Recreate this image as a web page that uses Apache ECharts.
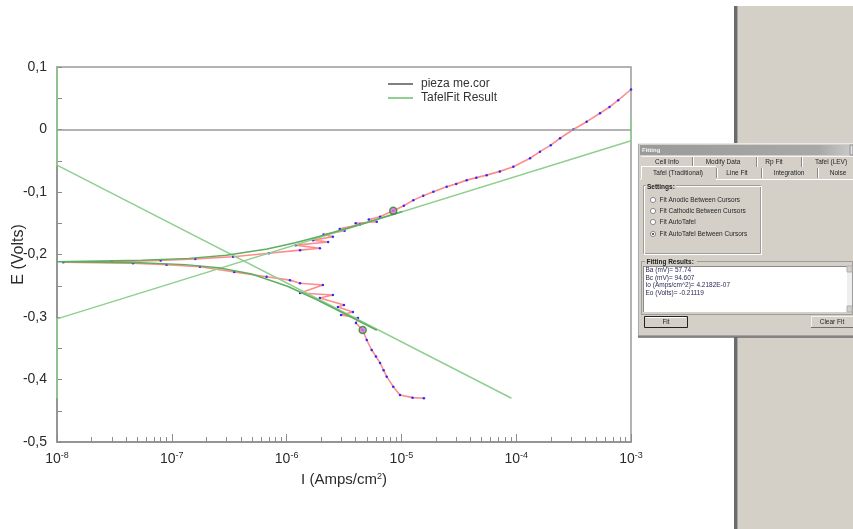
<!DOCTYPE html>
<html><head><meta charset="utf-8">
<script src="https://cdn.jsdelivr.net/npm/echarts@6/dist/echarts.min.js"></script>
<style>html,body{margin:0;padding:0;background:#fff}#c{width:853px;height:529px}</style>
</head><body><div id="c"></div>
<script>
// ---- measured data (I in A/cm2, E in V) ----
const dataI = [1.57e-5,1.25e-5,9.72e-6,8.49e-6,7.45e-6,7.0e-6,6.52e-6,6.0e-6,5.51e-6,4.99e-6,4.6e-6,4.02e-6,4.19e-6,2.98e-6,3.78e-6,2.8e-6,3.16e-6,1.95e-6,2.53e-6,1.31e-6,2.07e-6,1.31e-6,1.07e-6,6.7e-7,3.5e-7,1.76e-7,9e-8,4.6e-8,1.135e-8,
  3e-8,8e-8,1.6e-7,3.42e-7,7e-7,1.31e-6,1.95e-6,1.2e-6,2.3e-6,1.7e-6,2.53e-6,2.1e-6,3.2e-6,2.9e-6,4.36e-6,4.0e-6,6.1e-6,5.2e-6,6.52e-6,8.49e-6,1.05e-5,1.27e-5,1.55e-5,1.90e-5,2.48e-5,3.0e-5,3.71e-5,4.5e-5,5.53e-5,7.2e-5,9.44e-5,1.32e-4,1.61e-4,2.0e-4,2.41e-4,3.14e-4,4.11e-4,5.37e-4,6.5e-4,7.74e-4,1.0e-3];
const dataE = [-0.430,-0.429,-0.4248,-0.4115,-0.3955,-0.385,-0.3736,-0.363,-0.3528,-0.3368,-0.3208,-0.3096,-0.3016,-0.2968,-0.292,-0.284,-0.2808,-0.2696,-0.2648,-0.2616,-0.2488,-0.246,-0.241,-0.2355,-0.228,-0.2195,-0.2165,-0.214,-0.2125,
  -0.2115,-0.2095,-0.207,-0.2035,-0.198,-0.193,-0.190,-0.185,-0.180,-0.177,-0.1715,-0.168,-0.162,-0.159,-0.152,-0.150,-0.1475,-0.144,-0.1395,-0.130,-0.122,-0.113,-0.106,-0.0995,-0.0915,-0.087,-0.081,-0.077,-0.073,-0.067,-0.0595,-0.046,-0.0355,-0.025,-0.014,0.000,0.0125,0.026,0.036,0.047,0.064];
const fitI = [6.11e-6,2.93e-6,1.78e-6,1.03e-6,4.96e-7,2.55e-7,1.31e-7,5.34e-8,1e-8,1e-8,5.5e-8,1.41e-7,2.98e-7,6.77e-7,1.19e-6,1.92e-6,4.52e-6,1.02e-5];
const fitE = [-0.3212,-0.2912,-0.2712,-0.2512,-0.2312,-0.2212,-0.2162,-0.2132,-0.2116,-0.2108,-0.2092,-0.2062,-0.2012,-0.1912,-0.1812,-0.1712,-0.1512,-0.1312];
const anodicI = [1e-8,1e-8,1e-3,1e-3];
const anodicE = [-0.43,-0.303,-0.018,0.02];
const cathodicI = [1e-8,1e-8,9.1e-5];
const cathodicE = [0.1,-0.057,-0.43];
const cursorI = [8.49e-6,4.6e-6];
const cursorE = [-0.130,-0.3208];
const minorMantissas = [2,3,4,5,6,7,8,9];
const decades = [-8,-7,-6,-5,-4];
const tabsRow1 = [['Cell Info',667],['Modify Data',723],['Rp Fit',774],['Tafel (LEV)',831]];
const tabsRow2 = [['Tafel (Traditional)',678],['Line Fit',737],['Integration',789],['Noise',838]];
const radioLabels = ['Fit Anodic Between Cursors','Fit Cathodic Between Cursors','Fit AutoTafel','Fit AutoTafel Between Cursors'];
const resultLines = ['Ba (mV)= 57.74','Bc (mV)= 94.607','Io (Amps/cm^2)= 4.2182E-07','Eo (Volts)= -0.21119'];

const zip = (a,b) => a.map((v,i)=>[v,b[i]]);
const minorXTicks = [];
decades.forEach(d => minorMantissas.forEach(m => minorXTicks.push(m*Math.pow(10,d))));

// ---- dialog / panel graphics ----
const G = [];
const FONT = '6.5px "Liberation Sans", Arial, sans-serif';
function rect(x,y,w,h,fill,stroke,lw){G.push({type:'rect',silent:true,shape:{x:x,y:y,width:w,height:h},style:{fill:fill||'none',stroke:stroke||null,lineWidth:lw||1}});}
function line(x1,y1,x2,y2,stroke,lw){G.push({type:'line',silent:true,shape:{x1:x1,y1:y1,x2:x2,y2:y2},style:{stroke:stroke,lineWidth:lw||1}});}
function text(x,y,t,o){G.push({type:'text',silent:true,x:x,y:y,style:Object.assign({text:t,fill:'#262626',font:FONT,textAlign:'left',textVerticalAlign:'middle',align:'left',verticalAlign:'middle'},o||{})});}
function circle(cx,cy,r,fill,stroke){G.push({type:'circle',silent:true,shape:{cx:cx,cy:cy,r:r},style:{fill:fill,stroke:stroke||null,lineWidth:1}});}

// side panel
rect(734,6,3,523,'#6b6b6b');
rect(737,6,1,523,'#a5a5a5');
rect(738,6,115,523,'#d4d0c8');
// dialog body
rect(638,143,215,194,'#d4d0c8');
line(638.5,143,638.5,337,'#a8a8a8');
line(638,143.5,853,143.5,'#e8e8e8');
line(638,335.5,853,335.5,'#a0a0a0');
line(638,337,853,337,'#6a6a6a',1.5);
// title bar
G.push({type:'rect',silent:true,shape:{x:640,y:145,width:210,height:10},style:{fill:{type:'linear',x:0,y:0,x2:1,y2:0,colorStops:[{offset:0,color:'#9a9a9a'},{offset:0.85,color:'#a8a8a8'},{offset:1,color:'#c8c8c8'}]}}});
rect(850,145,3,10,'#e0e0e0','#909090');
text(642,150,'Fitting',{fill:'#f4f4f4',font:'bold 6px "Liberation Sans", Arial, sans-serif'});
// tabs
line(641,156.5,853,156.5,'#f4f4f4');
[692.5,756.5,801.5].forEach(x=>{line(x,157,x,167,'#8a8a8a');line(x+1,157,x+1,167,'#ffffff');});
[716.5,761.5,817.5].forEach(x=>{line(x,168,x,178,'#8a8a8a');line(x+1,168,x+1,178,'#ffffff');});
line(641,166.5,716,166.5,'#ffffff');
line(641.5,166,641.5,179,'#ffffff');
line(716,179.5,853,179.5,'#ffffff');
line(640,179.5,641,179.5,'#ffffff');
tabsRow1.forEach(t=>text(t[1],162.5,t[0],{textAlign:'center',align:'center'}));
tabsRow2.forEach(t=>text(t[1],173,t[0],{textAlign:'center',align:'center'}));
// settings group
rect(643.5,185.5,117,68,'none','#9c9c9c');
rect(644.5,186.5,117,68,'none','#ffffff');
rect(646,184,30,6,'#d4d0c8');
text(647,187.5,'Settings:',{font:'bold 6.5px "Liberation Sans", Arial, sans-serif',fill:'#222'});
[200,211,222,234].forEach((cy,i)=>{
  circle(653,cy,2.6,'#ffffff','#8a8a8a');
  if(i===3) circle(653,cy,1.1,'#333333');
  text(659.5,cy,radioLabels[i]);
});
// fitting results group
rect(641.5,261.5,211,53,'none','#9c9c9c');
rect(645,259,52,6,'#d4d0c8');
text(646.5,262.5,'Fitting Results:',{font:'bold 6.5px "Liberation Sans", Arial, sans-serif',fill:'#222'});
rect(643,266,204,46,'#ffffff');
line(643,266.5,847,266.5,'#8a8a8a');
line(643.5,266,643.5,312,'#8a8a8a');
rect(847,266,5,46,'#eeeeee');
rect(847,266,5,6,'#d4d0c8','#b0b0b0');
rect(847,306,5,6,'#d4d0c8','#b0b0b0');
resultLines.forEach((t,i)=>text(645.5,270.5+i*7.6,t,{fill:'#2a2a55'}));
// buttons
rect(644.5,316.5,43,11,'#d4d0c8','#222222');
line(645.5,317.5,686,317.5,'#ffffff');
text(666,322,'Fit',{textAlign:'center',align:'center'});
rect(811.5,316.5,42,11,'#d4d0c8','#f0f0f0');
line(811,327.5,853,327.5,'#707070');
text(832,322,'Clear Fit',{textAlign:'center',align:'center'});

// ---- chart ----
const chart = echarts.init(document.getElementById('c'), null, {renderer:'canvas'});
const AX = '#8c8c8c';
const FF = '"Liberation Sans", Arial, sans-serif';
const LBL = {color:'#2b2b2b', fontSize:14, fontFamily:FF};
chart.setOption({
  animation:false,
  backgroundColor:'#ffffff',
  grid:{left:57,right:222,top:67,bottom:87,show:true,borderColor:'#9a9a9a',borderWidth:1.5,backgroundColor:'transparent',containLabel:false,outerBoundsMode:'none'},
  legend:{
    left:388, top:78, orient:'vertical', itemWidth:25, itemHeight:2, itemGap:2, icon:'rect', padding:0,
    textStyle:{fontSize:12,color:'#333',fontFamily:FF,padding:[0,0,0,3]},
    data:[{name:'pieza me.cor',itemStyle:{color:'#808080'}},{name:'TafelFit Result',itemStyle:{color:'#8fcf8f'}}]
  },
  xAxis:[{
    type:'log', logBase:10, min:1e-8, max:1e-3,
    name:'I (Amps/cm{s|2})', nameLocation:'middle', nameGap:30, nameMoveOverlap:false,
    nameTextStyle:{color:'#2b2b2b',fontSize:15,fontFamily:FF,
      rich:{s:{fontSize:9,color:'#2b2b2b',verticalAlign:'top',padding:[0,0,7,0],fontFamily:FF}}},
    axisLine:{show:true,onZero:false,lineStyle:{color:AX,width:1.5}},
    axisTick:{show:true,inside:true,length:8,lineStyle:{color:AX}},
    splitLine:{show:false},
    axisLabel:{margin:9,formatter:v=>'{b|10}{s|'+Math.round(Math.log10(v))+'}',
      rich:{b:Object.assign({},LBL),s:{fontSize:9,color:'#2b2b2b',verticalAlign:'top',padding:[0,0,7,0],fontFamily:FF}}}
  },{
    type:'log', logBase:10, min:1e-8, max:1e-3, position:'bottom',
    axisLine:{show:false,onZero:false}, splitLine:{show:false}, axisLabel:{show:false},
    axisTick:{show:true,inside:true,length:5,customValues:minorXTicks,lineStyle:{color:AX}}
  }],
  yAxis:{
    type:'value', min:-0.5, max:0.1, interval:0.1,
    name:'E (Volts)', nameLocation:'middle', nameGap:30, nameRotate:90, nameMoveOverlap:false,
    nameTextStyle:{color:'#2b2b2b',fontSize:16,fontFamily:FF},
    axisLine:{show:true,onZero:false,lineStyle:{color:AX,width:1.5}},
    axisTick:{show:true,inside:true,length:5,lineStyle:{color:AX}},
    minorTick:{show:true,splitNumber:2,length:5,lineStyle:{color:AX}},
    splitLine:{show:false},
    axisLabel:Object.assign({margin:10,formatter:v=>{const r=Math.round(v*10)/10;return r===0?'0':r.toFixed(1).replace('.',',');}},LBL)
  },
  series:[
    {name:'pieza me.cor',type:'line',data:zip(dataI,dataE),showSymbol:true,symbol:'circle',symbolSize:2.5,
      lineStyle:{color:'#ff8c8c',width:1.6},itemStyle:{color:'#2a2aff',borderWidth:0},z:3,
      markLine:{silent:true,symbol:'none',label:{show:false},lineStyle:{color:'#9a9a9a',width:1.5,type:'solid'},data:[{yAxis:0}]}},
    {name:'TafelFit Result',type:'line',data:zip(anodicI,anodicE),showSymbol:false,lineStyle:{color:'#8fcf8f',width:1.5},itemStyle:{color:'#8fcf8f'},z:4},
    {name:'TafelFit Result',type:'line',data:zip(cathodicI,cathodicE),showSymbol:false,lineStyle:{color:'#8fcf8f',width:1.5},itemStyle:{color:'#8fcf8f'},z:4},
    {name:'TafelFit Result',type:'line',data:zip(fitI,fitE),showSymbol:false,lineStyle:{color:'#5fae5f',width:1.5},itemStyle:{color:'#8fcf8f'},z:4},
    {name:'cursors',type:'scatter',data:zip(cursorI,cursorE),symbolSize:7,itemStyle:{color:'#e070e0',borderColor:'#1f8a1f',borderWidth:1.5},z:5}
  ],
  graphic:G
});
</script>
</body></html>
